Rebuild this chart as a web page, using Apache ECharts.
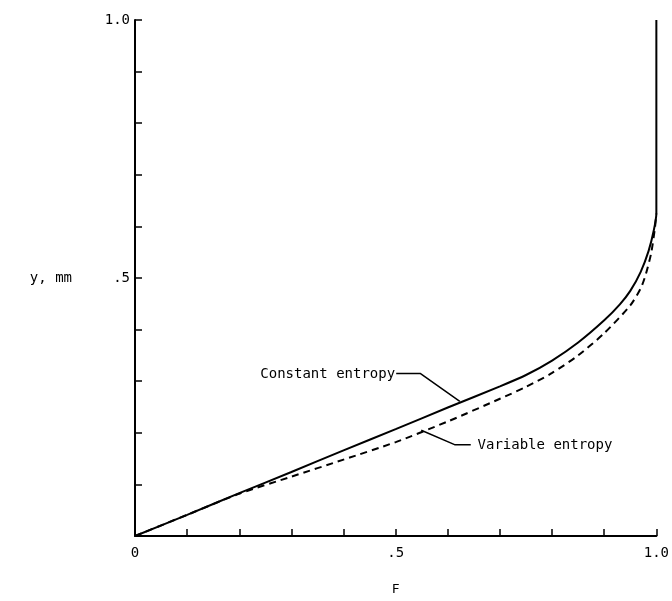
<!DOCTYPE html>
<html>
<head>
<meta charset="utf-8">
<script src="https://cdn.jsdelivr.net/npm/echarts@6/dist/echarts.min.js"></script>
<style>
  html, body { margin: 0; padding: 0; background: #fff; }
  #main { width: 672px; height: 601px; }
</style>
</head>
<body>
<div id="main"></div>
<script>
// 曲线数据 (F, y)
var constantEntropy = [
  [0, 0], [0.1, 0.041], [0.2, 0.083], [0.3, 0.124], [0.4, 0.166], [0.5, 0.207],
  [0.6, 0.249], [0.7, 0.29], [0.75, 0.312], [0.8, 0.34], [0.85, 0.375],
  [0.9, 0.418], [0.93, 0.449], [0.95, 0.475], [0.97, 0.512], [0.985, 0.552],
  [0.995, 0.592], [1.0, 0.625], [1.0, 1.0]
];
var variableEntropy = [
  [0, 0], [0.1, 0.041], [0.2, 0.082], [0.3, 0.115], [0.4, 0.148], [0.5, 0.182],
  [0.6, 0.222], [0.7, 0.266], [0.75, 0.289], [0.8, 0.316], [0.85, 0.35],
  [0.9, 0.393], [0.95, 0.447], [0.97, 0.48], [0.98, 0.508], [0.99, 0.548],
  [0.997, 0.595], [1.0, 0.625]
];
// 引线 / 标注
var constantLeader = [[0.501, 0.315], [0.547, 0.315], [0.623, 0.261]];
var variableLeader = [[0.549, 0.205], [0.613, 0.177], [0.644, 0.177]];
var constantLabel = { text: 'Constant entropy', at: [0.499, 0.313] };
var variableLabel = { text: 'Variable entropy', at: [0.657, 0.175] };

var FONT = 'DejaVu Sans Mono';

function tickText(v) {
  if (Math.abs(v) < 1e-9) return '0';
  if (Math.abs(v - 0.5) < 1e-9) return '.5';
  if (Math.abs(v - 1) < 1e-9) return '1.0';
  return '';
}

var chart = echarts.init(document.getElementById('main'));

var option = {
  animation: false,
  backgroundColor: '#fff',
  grid: { left: 135, right: 12, top: 20, bottom: 61 },
  xAxis: {
    type: 'value',
    min: 0, max: 1, interval: 0.1,
    name: 'F',
    nameLocation: 'middle',
    nameGap: 47,
    nameTextStyle: { color: '#000', fontFamily: FONT, fontSize: 13 },
    axisLine: { lineStyle: { color: '#000', width: 2 } },
    axisTick: { inside: true, length: 7, lineStyle: { color: '#000', width: 1.5 } },
    axisLabel: {
      color: '#000', fontFamily: FONT, fontSize: 14, margin: 10,
      formatter: tickText
    },
    splitLine: { show: false }
  },
  yAxis: {
    type: 'value',
    min: 0, max: 1, interval: 0.1,
    name: 'y, mm',
    nameLocation: 'middle',
    nameRotate: 0,
    nameGap: 63,
    nameTextStyle: { color: '#000', fontFamily: FONT, fontSize: 14 },
    axisLine: { lineStyle: { color: '#000', width: 2 } },
    axisTick: { inside: true, length: 7, lineStyle: { color: '#000', width: 1.5 } },
    axisLabel: {
      color: '#000', fontFamily: FONT, fontSize: 14, margin: 5,
      formatter: function (v) { return Math.abs(v) < 1e-9 ? '' : tickText(v); }
    },
    splitLine: { show: false }
  },
  series: [
    {
      name: 'Constant entropy',
      type: 'line',
      data: constantEntropy,
      showSymbol: false,
      smooth: 0.25,
      lineStyle: { color: '#000', width: 2 },
      silent: true
    },
    {
      name: 'Variable entropy',
      type: 'line',
      data: variableEntropy,
      showSymbol: false,
      smooth: 0.25,
      lineStyle: { color: '#000', width: 2, type: [7, 5] },
      silent: true
    },
    {
      type: 'line',
      data: constantLeader,
      showSymbol: false,
      lineStyle: { color: '#000', width: 1.5 },
      silent: true
    },
    {
      type: 'line',
      data: variableLeader,
      showSymbol: false,
      lineStyle: { color: '#000', width: 1.5 },
      silent: true
    }
  ]
};

chart.setOption(option);

// 标注文字
var p1 = chart.convertToPixel({ gridIndex: 0 }, constantLabel.at);
var p2 = chart.convertToPixel({ gridIndex: 0 }, variableLabel.at);
chart.setOption({
  graphic: [
    {
      type: 'text', x: p1[0], y: p1[1],
      style: {
        text: constantLabel.text, fill: '#000', font: '14px ' + FONT,
        align: 'right', verticalAlign: 'middle'
      }
    },
    {
      type: 'text', x: p2[0], y: p2[1],
      style: {
        text: variableLabel.text, fill: '#000', font: '14px ' + FONT,
        align: 'left', verticalAlign: 'middle'
      }
    }
  ]
});
</script>
</body>
</html>
